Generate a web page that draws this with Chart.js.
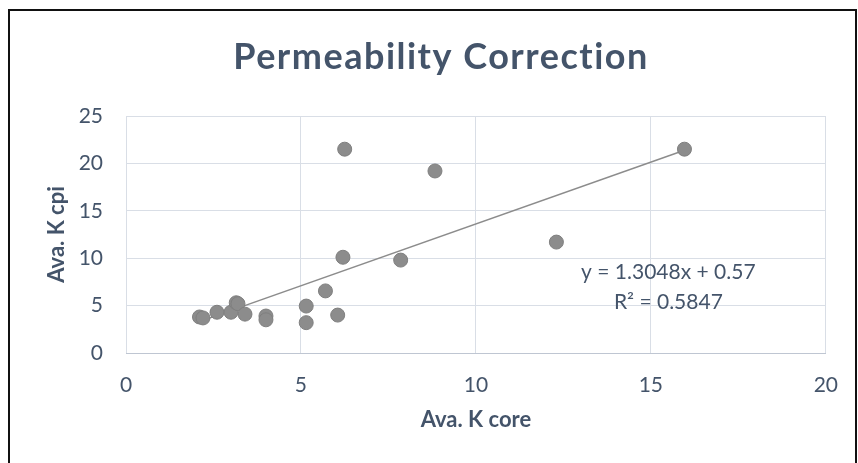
<!DOCTYPE html>
<html>
<head>
<meta charset="utf-8">
<script src="https://cdn.jsdelivr.net/npm/chart.js@4.4.1/dist/chart.umd.min.js"></script>
<style>
  html, body { margin: 0; padding: 0; background: #fff; }
  #wrap { position: relative; width: 858px; height: 463px; overflow: hidden; }
  #frame {
    position: absolute; left: 8px; top: 9px; width: 845px; height: 520px;
    border: 2px solid #111; border-bottom: none; pointer-events: none;
  }
  canvas { position: absolute; left: 0; top: 0; }
</style>
</head>
<body>
<div id="wrap">
  <canvas id="chart" width="858" height="463"></canvas>
  <div id="frame"></div>
</div>
<script>
// 数据
const kCore = [2.1, 2.2, 2.6, 3.0, 3.15, 3.2, 3.4, 4.0, 4.0, 5.15, 5.15, 5.7, 6.05, 6.25, 6.2, 7.85, 8.83, 12.3, 15.96];
const kCpi  = [3.8, 3.7, 4.3, 4.3, 5.3, 5.2, 4.1, 3.9, 3.5, 4.95, 3.2, 6.55, 4.0, 21.5, 10.1, 9.8, 19.2, 11.7, 21.5];
const xTicks = [0, 5, 10, 15, 20];
const yTicks = [0, 5, 10, 15, 20, 25];
const trendSlope = 1.3048;
const trendIntercept = 0.57;
const trendText = ['y = 1.3048x + 0.57', 'R² = 0.5847'];
const chartTitle = 'Permeability Correction';

const textColor = '#44546A';
const gridColor = '#D9DEE6';
const fontFamily = 'Lato, "Open Sans", sans-serif';

const points = kCore.map((x, i) => ({ x: x, y: kCpi[i] }));
const xMin = Math.min(...kCore), xMax = Math.max(...kCore);
const trendPoints = [
    { x: xMin, y: trendSlope * xMin + trendIntercept },
    { x: xMax, y: trendSlope * xMax + trendIntercept }
];

// 标题和趋势线公式
const extraText = {
    id: 'extraText',
    afterDraw(chart) {
        const { ctx, scales } = chart;
        ctx.save();
        ctx.fillStyle = textColor;
        ctx.textAlign = 'center';

        ctx.font = 'bold 36px ' + fontFamily;
        ctx.letterSpacing = '1.5px';
        ctx.textBaseline = 'alphabetic';
        ctx.fillText(chartTitle, 441, 69);

        ctx.letterSpacing = '0px';
        ctx.font = '21px ' + fontFamily;
        ctx.textBaseline = 'middle';
        const px = scales.x.getPixelForValue(15.5);
        const py = scales.y.getPixelForValue(8.55);
        ctx.fillText(trendText[0], px, py);
        ctx.fillText(trendText[1], px, py + 30);
        ctx.restore();
    }
};

new Chart(document.getElementById('chart'), {
    type: 'scatter',
    data: {
        datasets: [{
            label: 'Trend',
            type: 'line',
            data: trendPoints,
            borderColor: '#8C8C8C',
            borderWidth: 1.5,
            pointRadius: 0,
            fill: false,
            order: 2
        }, {
            label: 'Ava. K cpi',
            data: points,
            backgroundColor: '#8C8C8C',
            borderColor: '#7F7F7F',
            borderWidth: 1,
            pointRadius: 7,
            order: 1
        }]
    },
    options: {
        responsive: false,
        animation: false,
        layout: { padding: { left: 16, right: 28, top: 116, bottom: 0 } },
        plugins: {
            legend: { display: false },
            tooltip: { enabled: false },
            title: { display: false }
        },
        scales: {
            x: {
                type: 'linear',
                min: 0, max: 20,
                afterBuildTicks: s => { s.ticks = xTicks.map(v => ({ value: v })); },
                afterFit: s => { s.height = 463 - 353; },
                grid: { color: gridColor, lineWidth: 1, drawTicks: false },
                border: { display: true, color: '#BFC6D2' },
                ticks: { color: textColor, padding: 20, font: { family: fontFamily, size: 21 } },
                title: {
                    display: true,
                    text: 'Ava. K core',
                    color: textColor,
                    font: { family: fontFamily, size: 22, weight: 'bold' },
                    padding: { top: 0, bottom: 30 }
                }
            },
            y: {
                min: 0, max: 25,
                afterBuildTicks: s => { s.ticks = yTicks.map(v => ({ value: v })); },
                afterFit: s => { s.width = 126 - 16; },
                grid: { color: gridColor, lineWidth: 1, drawTicks: false },
                border: { display: false },
                ticks: { color: textColor, padding: 23, font: { family: fontFamily, size: 21 } },
                title: {
                    display: true,
                    text: 'Ava. K cpi',
                    color: textColor,
                    font: { family: fontFamily, size: 22, weight: 'bold' },
                    padding: { top: 28, bottom: 0 }
                }
            }
        }
    },
    plugins: [extraText]
});
</script>
</body>
</html>
